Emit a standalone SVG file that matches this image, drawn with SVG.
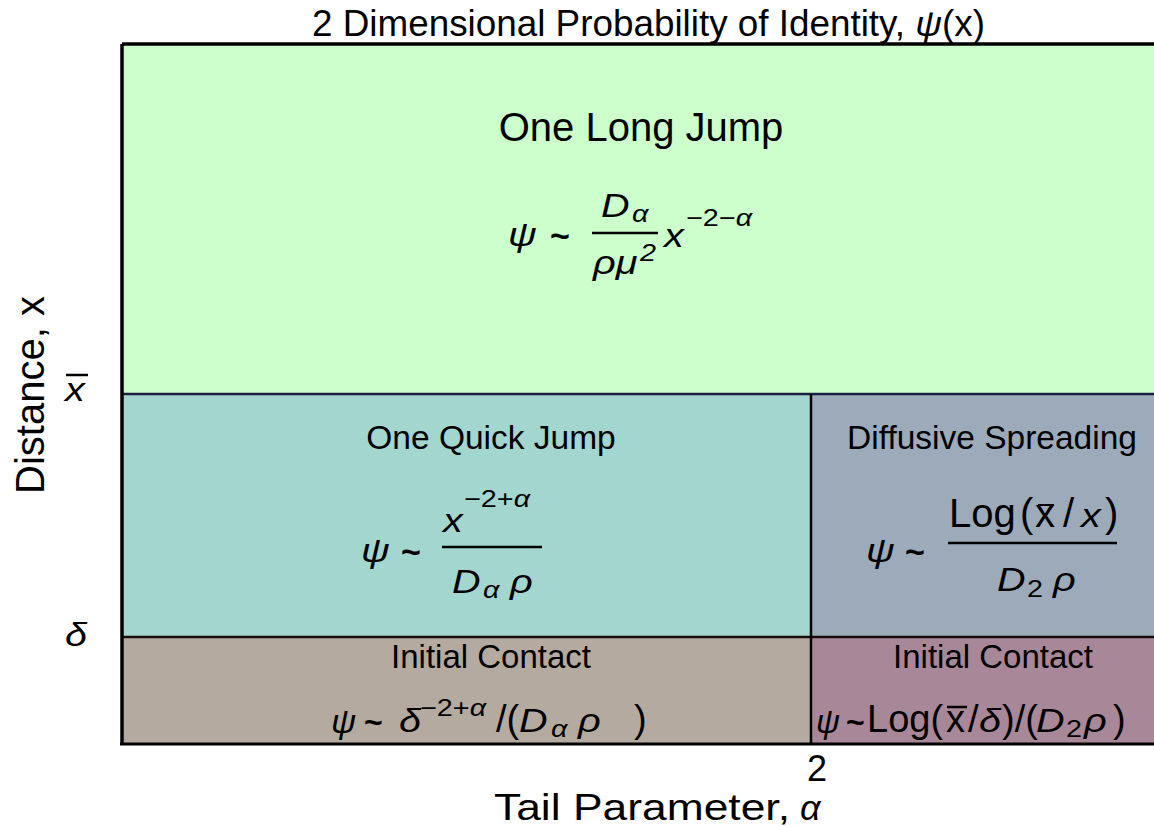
<svg xmlns="http://www.w3.org/2000/svg" width="1154" height="827" viewBox="0 0 1154 827">
<style>
text{font-family:"Liberation Sans",Arial,sans-serif;fill:#000}
.t{font-size:36px}
.big{font-size:40px}
.h{font-size:33.5px}
.ic{font-size:33px}
.mi{font-size:33px;font-style:italic}
.sup{font-size:24px}
.up{font-size:40px}
.up38{font-size:38px}
.tl{font-size:34px;font-weight:bold}
.tls{font-size:32px;font-weight:bold}
.i{font-style:italic}
.fr{stroke:#000;stroke-width:2.5}
.bar{stroke:#000;stroke-width:2.5}
</style>
<rect width="1154" height="827" fill="#fff"/>
<text class="t" x="312" y="36" textLength="673" lengthAdjust="spacingAndGlyphs">2 Dimensional Probability of Identity, <tspan class="i">ψ</tspan>(x)</text>
<g id="long-jump">
<rect x="122" y="44" width="1032" height="350" fill="#CCFFCC"/>
<text class="big" x="641" y="141" text-anchor="middle">One Long Jump</text>
<text class="mi" transform="translate(508,246) scale(1.2,1)">ψ</text>
<text class="tl" x="550" y="247">~</text>
<text class="mi" transform="translate(601,217) scale(1.2,1)">D</text>
<text class="sup i" transform="translate(632,222) scale(1.2,1)">α</text>
<line class="fr" x1="592" y1="233" x2="658" y2="233"/>
<text class="mi" transform="translate(593,274) scale(1.2,1)">ρμ</text>
<text class="sup i" transform="translate(640,261) scale(1.2,1)">2</text>
<text class="mi" transform="translate(664,247) scale(1.2,1)">x</text>
<text class="sup" transform="translate(686,226) scale(1.2,1)">−2−<tspan class="i">α</tspan></text>
</g>
<g id="quick-jump">
<rect x="122" y="394" width="689" height="243" fill="#A3D6CE"/>
<text class="h" x="491" y="449" text-anchor="middle">One Quick Jump</text>
<text class="mi" transform="translate(361,562) scale(1.2,1)">ψ</text>
<text class="tl" x="401" y="563">~</text>
<text class="mi" transform="translate(443,532) scale(1.2,1)">x</text>
<text class="sup" transform="translate(464,507) scale(1.2,1)">−2+<tspan class="i">α</tspan></text>
<line class="fr" x1="442" y1="547" x2="542" y2="547"/>
<text class="mi" transform="translate(452,593) scale(1.2,1)">D</text>
<text class="sup i" transform="translate(483,598) scale(1.2,1)">α</text>
<text class="mi" transform="translate(510,593) scale(1.2,1)">ρ</text>
</g>
<g id="diffusive">
<rect x="811" y="394" width="343" height="243" fill="#9DAABA"/>
<text class="h" x="992" y="449" text-anchor="middle">Diffusive Spreading</text>
<text class="mi" transform="translate(866,562) scale(1.2,1)">ψ</text>
<text class="tl" x="905" y="563">~</text>
<text class="up" x="949" y="527">Log</text>
<text class="up" x="1020" y="527">(</text>
<text class="up" x="1035" y="527">x</text>
<line x1="1038" y1="505" x2="1054" y2="505" stroke="#000" stroke-width="2"/>
<text class="up" x="1063" y="527">/</text>
<text class="mi" transform="translate(1081,527) scale(1.2,1)">x</text>
<text class="up" x="1105" y="527">)</text>
<line class="fr" x1="948" y1="543" x2="1117" y2="543"/>
<text class="mi" transform="translate(997,591) scale(1.2,1)">D</text>
<text class="sup" transform="translate(1027,597) scale(1.2,1)">2</text>
<text class="mi" transform="translate(1053,591) scale(1.2,1)">ρ</text>
</g>
<g id="initial-contact-left">
<rect x="122" y="637" width="689" height="107" fill="#B5AAA0"/>
<text class="ic" x="491" y="668" text-anchor="middle">Initial Contact</text>
<text class="mi" transform="translate(331,733) scale(1.05,1)">ψ</text>
<text class="tls" x="364" y="733">~</text>
<text class="mi" transform="translate(399,732) scale(1.2,1)">δ</text>
<text class="sup" transform="translate(420,716) scale(1.2,1)">−2+<tspan class="i">α</tspan></text>
<text class="up38" x="496" y="732">/(</text>
<text class="mi" transform="translate(519,732) scale(1.2,1)">D</text>
<text class="sup i" transform="translate(551,737) scale(1.2,1)">α</text>
<text class="mi" transform="translate(578,732) scale(1.2,1)">ρ</text>
<text class="up38" x="634" y="732">)</text>
</g>
<g id="initial-contact-right">
<rect x="811" y="637" width="343" height="107" fill="#A88898"/>
<text class="ic" x="993" y="668" text-anchor="middle">Initial Contact</text>
<text class="mi" transform="translate(816,733) scale(1.0,1)">ψ</text>
<text class="tls" x="846" y="733">~</text>
<text class="up38" x="867" y="732">Log(</text>
<text class="up38" x="946" y="732">x</text>
<line class="bar" x1="947" y1="707" x2="967" y2="707"/>
<text class="up38" x="968" y="732">/</text>
<text class="mi" transform="translate(979,732) scale(1.2,1)">δ</text>
<text class="up38" x="1002" y="732">)/(</text>
<text class="mi" transform="translate(1036,732) scale(1.2,1)">D</text>
<text class="sup" transform="translate(1066,737) scale(1.2,1)">2</text>
<text class="mi" transform="translate(1084,732) scale(1.2,1)">ρ</text>
<text class="up38" x="1113" y="732">)</text>
</g>
<g id="connectors" fill="none">
<line x1="122" y1="394" x2="1154" y2="394" stroke="#1a2040" stroke-width="2.5"/>
<line x1="122" y1="637" x2="1154" y2="637" stroke="#1a0a0a" stroke-width="2.5"/>
<line x1="811" y1="394" x2="811" y2="744" stroke="#000" stroke-width="2.5"/>
<line x1="122" y1="44" x2="1154" y2="44" stroke="#000" stroke-width="3.5"/>
<line x1="122" y1="44" x2="122" y2="745" stroke="#000" stroke-width="3.5"/>
<line x1="120" y1="744" x2="1154" y2="744" stroke="#000" stroke-width="3"/>
</g>
<text font-size="40" transform="translate(44,395) rotate(-90)" text-anchor="middle">Distance, x</text>
<text class="mi" transform="translate(65,401) scale(1.2,1)">x</text>
<line class="bar" x1="66" y1="375" x2="88" y2="375"/>
<text class="mi" transform="translate(65,646) scale(1.2,1)">δ</text>
<text font-size="36" x="817" y="781" text-anchor="middle">2</text>
<text font-size="37" x="494" y="820" textLength="296" lengthAdjust="spacingAndGlyphs">Tail Parameter,</text>
<text font-size="36" x="800" y="820" font-family="DejaVu Serif, serif" font-style="italic">α</text>
</svg>
